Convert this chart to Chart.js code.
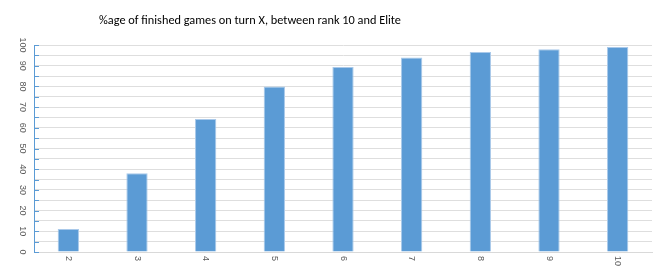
<!DOCTYPE html>
<html>
<head>
<meta charset="utf-8">
<script src="https://cdn.jsdelivr.net/npm/chart.js@4"></script>
<style>
  body { margin: 0; background: #fff; }
  #wrap { position: relative; width: 655px; height: 273px; }
  #title {
    position: absolute; top: 12px; left: 0; width: 500px; text-align: center;
    font-family: Carlito, "Liberation Sans Narrow", "Liberation Sans", sans-serif;
    font-size: 12.3px; color: #000;
  }
</style>
</head>
<body>
<div id="wrap">
  <div id="title">%age of finished games on turn X, between rank 10 and Elite</div>
  <canvas id="chart" width="655" height="273"></canvas>
</div>
<script>
const turns = ["2", "3", "4", "5", "6", "7", "8", "9", "10"];
const finishedPct = [11.1, 38.0, 64.2, 80.0, 89.4, 94.0, 96.6, 98.0, 99.0];
const yTicks = [0, 10, 20, 30, 40, 50, 60, 70, 80, 90, 100];

const labelFont = '9px "Liberation Sans", sans-serif';

// tick labels are turned 90deg clockwise, like the original
const rotatedLabels = {
  id: "rotatedLabels",
  afterDraw(chart) {
    const ctx = chart.ctx;
    const x = chart.scales.x, y = chart.scales.y;
    ctx.save();
    ctx.font = labelFont;
    ctx.fillStyle = "#595959";

    // small blue ticks on the y axis
    ctx.strokeStyle = "#5b9bd5";
    ctx.lineWidth = 1;
    for (let v = 0; v <= 100; v += 5) {
      const py = Math.round(y.getPixelForValue(v)) + 0.5;
      ctx.beginPath();
      ctx.moveTo(x.left, py);
      ctx.lineTo(x.left + 5, py);
      ctx.stroke();
    }

    yTicks.forEach(v => {
      const py = y.getPixelForValue(v);
      ctx.save();
      ctx.translate(x.left - 12, py);
      ctx.rotate(Math.PI / 2);
      ctx.textAlign = "center";
      ctx.textBaseline = "middle";
      ctx.fillText(String(v), 0, 0);
      ctx.restore();
    });

    turns.forEach((t, i) => {
      const px = x.getPixelForTick(i);
      ctx.save();
      ctx.translate(px, y.bottom + 4);
      ctx.rotate(Math.PI / 2);
      ctx.textAlign = "left";
      ctx.textBaseline = "middle";
      ctx.fillText(t, 0, 0);
      ctx.restore();
    });
    ctx.restore();
  }
};

new Chart(document.getElementById("chart"), {
  type: "bar",
  data: {
    labels: turns,
    datasets: [{
      data: finishedPct,
      backgroundColor: "#5b9bd5",
      borderColor: "#a9c9ea",
      borderWidth: 1,
      barPercentage: 0.31,
      categoryPercentage: 1
    }]
  },
  options: {
    responsive: false,
    animation: false,
    layout: { padding: { left: 34, top: 45, right: 3, bottom: 21 } },
    plugins: {
      legend: { display: false },
      title: { display: false },
      tooltip: { enabled: false }
    },
    scales: {
      x: {
        ticks: { display: false },
        grid: { display: false, drawTicks: false },
        border: { color: "#d9d9d9" }
      },
      y: {
        min: 0,
        max: 100,
        ticks: { display: false, stepSize: 5 },
        grid: { color: "#dedede", drawTicks: false },
        border: { color: "#5b9bd5" }
      }
    }
  },
  plugins: [rotatedLabels]
});
</script>
</body>
</html>
